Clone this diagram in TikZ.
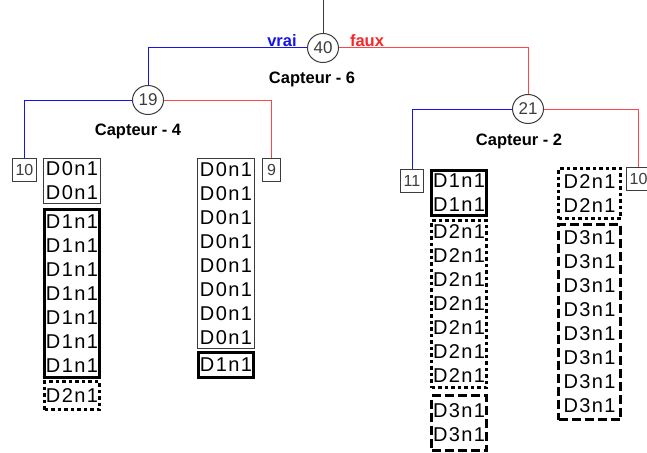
\documentclass[tikz,border=0pt]{standalone}
\usepackage{fontspec}
\setmainfont{Liberation Sans}
\newfontfamily\grpfont[LetterSpace=7]{Liberation Sans}
\usepackage{tikz}
\usetikzlibrary{shapes.geometric, positioning}
\definecolor{TrBlue}{RGB}{20,20,235}
\definecolor{TrRed}{RGB}{245,40,40}
\definecolor{TrLine}{RGB}{255,70,70}
\definecolor{TrGray}{RGB}{60,60,60}

\tikzset{
  grp/.style={font=\grpfont\fontsize{20}{24}\selectfont, align=center,
              inner sep=0pt, anchor=north west},
  thinbox/.style={grp, draw=TrGray, line width=1pt},
  boldbox/.style={grp, draw=black, line width=3pt},
  dotbox/.style={grp, draw=black, line width=3pt, dash pattern=on 3.5pt off 3pt},
  dashbox/.style={grp, draw=black, line width=3pt, dash pattern=on 9pt off 4pt},
  leaf/.style={draw=TrGray, line width=1pt, font=\fontsize{16}{16}\selectfont,
               text=TrGray, inner sep=0pt, minimum height=23pt, anchor=north west},
  test/.style={ellipse, draw=TrGray, line width=1pt, minimum width=31pt,
               minimum height=29pt, inner sep=0pt, text=TrGray,
               font=\fontsize{17}{17}\selectfont},
  capt/.style={font=\bfseries\fontsize{16.5}{16.5}\selectfont},
  bluel/.style={TrBlue, line width=1pt},
  redl/.style={TrLine, line width=1pt}
}

\begin{document}
\begin{tikzpicture}[x=1pt, y=-1pt]
  \useasboundingbox (0,0) rectangle (647,452);
  \clip (0,0) rectangle (647,452);

  % Tests
  \coordinate (top) at (323,0);
  \node[test] (n40) at (323,48) {40};
  \node[test] (n19) at (148,100) {19};
  \node[test] (n21) at (528,109) {21};
  \draw[TrGray, line width=1pt] (top) -- (n40.north);

  \node[capt] (c6) at (312,79) {Capteur - 6};
  \node[capt] (c4) at (138,131) {Capteur - 4};
  \node[capt] (c2) at (519,141) {Capteur - 2};
  \node[capt, TrBlue] (vrai) at (282,41) {vrai};
  \node[capt, TrRed] (faux) at (367,41) {faux};

  % Leaves
  \node[leaf, minimum width=24pt] (l10) at (12,158) {10};
  \node[leaf, minimum width=18pt] (l9) at (262,158) {9};
  \node[leaf, minimum width=23pt] (l11) at (400,169) {11};
  \node[leaf, minimum width=24pt] (r10) at (626,167) {10};

  % Branches
  \draw[bluel] (n40.west) -| (n19.north);
  \draw[redl] (n40.east) -| (n21.north);
  \draw[bluel] (n19.west) -| (l10.north);
  \draw[redl] (n19.east) -| (l9.north);
  \draw[bluel] (n21.west) -| (l11.north);
  \draw[redl] (n21.east) -| (r10.north);

  % Samples under 10
  \node[thinbox, minimum width=57pt, minimum height=45pt] (g1) at (43,158)
        {D0n1\\D0n1};
  \node[boldbox, minimum width=55pt, minimum height=168pt] (g2) at (43,208)
        {D1n1\\D1n1\\D1n1\\D1n1\\D1n1\\D1n1\\D1n1};
  \node[dotbox, minimum width=55pt, minimum height=28pt] (g3) at (43,380)
        {D2n1};

  % Samples under 9
  \node[thinbox, minimum width=57pt, minimum height=190pt] (g4) at (197,158)
        {D0n1\\D0n1\\D0n1\\D0n1\\D0n1\\D0n1\\D0n1\\D0n1};
  \node[boldbox, minimum width=55pt, minimum height=25pt] (g5) at (197,351)
        {D1n1};

  % Samples under 11
  \node[boldbox, minimum width=55pt, minimum height=45pt] (g6) at (430,169)
        {D1n1\\D1n1};
  \node[dotbox, minimum width=55pt, minimum height=167pt] (g7) at (430,219)
        {D2n1\\D2n1\\D2n1\\D2n1\\D2n1\\D2n1\\D2n1};
  \node[dashbox, minimum width=55pt, minimum height=55pt] (g8) at (430,394)
        {D3n1\\D3n1};

  % Samples under 10 (right)
  \node[dotbox, minimum width=62pt, minimum height=50pt] (g9) at (557,167)
        {D2n1\\D2n1};
  \node[dashbox, minimum width=62pt, minimum height=195pt] (g10) at (557,223)
        {D3n1\\D3n1\\D3n1\\D3n1\\D3n1\\D3n1\\D3n1\\D3n1};
\end{tikzpicture}
\end{document}
